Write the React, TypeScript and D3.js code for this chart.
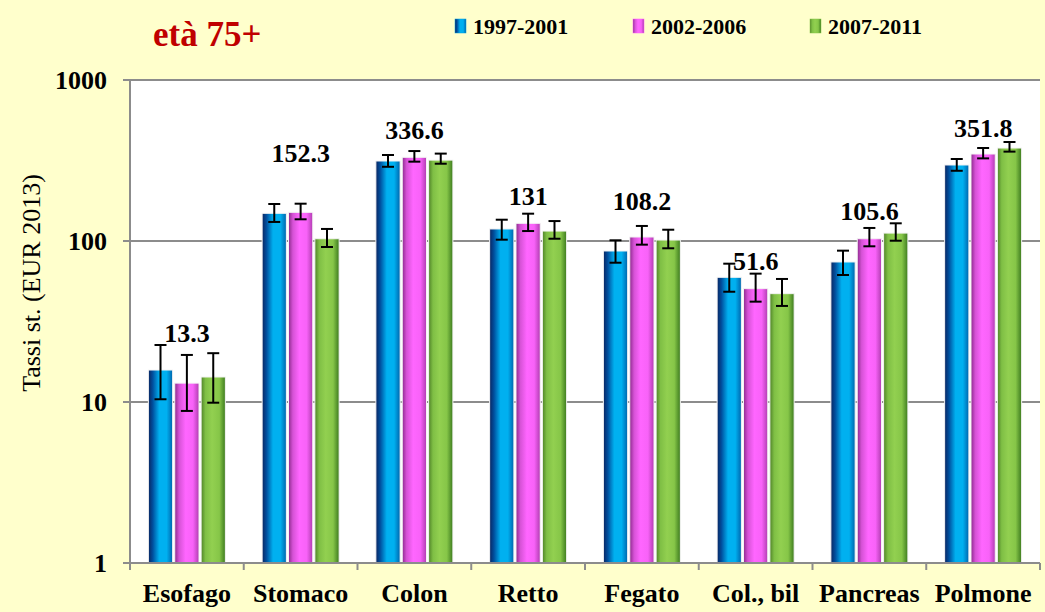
import React from 'react';
import * as d3 from 'd3';

const categories = ['Esofago', 'Stomaco', 'Colon', 'Retto', 'Fegato', 'Col., bil', 'Pancreas', 'Polmone'];
const seriesNames = ['1997-2001', '2002-2006', '2007-2011'];

const rates1997 = [15.8, 148.6, 314, 118.8, 86.7, 59.5, 74.1, 296.6];
const rates2002 = [13.1, 150.7, 331, 128.8, 105.9, 50.6, 103.3, 347];
const rates2007 = [14.3, 103.3, 318, 115.3, 101.4, 47.1, 112, 378];

const low1997 = [10.4, 131.3, 289, 101.9, 73.3, 48.4, 61.5, 273];
const high1997 = [22.6, 169.8, 342, 135.6, 101, 72.3, 87.1, 323];
const low2002 = [8.8, 136.4, 311, 115.3, 94.9, 42, 92.7, 326];
const high2002 = [19.6, 170.5, 362, 147.8, 124, 62.7, 120.5, 378];
const low2007 = [9.9, 91.8, 302, 103.3, 90.1, 39.5, 100.4, 359];
const high2007 = [20.1, 118.8, 349, 133, 117.5, 58.1, 128.8, 412];

const valueLabels = ['13.3', '152.3', '336.6', '131', '108.2', '51.6', '105.6', '351.8'];
// where each label's baseline sits, in data units
const labelAt = [23.6, 310, 430, 167, 156, 66, 135, 443];

const yTicks = [1, 10, 100, 1000];

const W = 1045;
const H = 612;
const plot = { left: 130, right: 1040, top: 80, bottom: 563 };
const serif = '"Liberation Serif", "Times New Roman", serif';

const gradients = [
  ['#0a2560', '#004f9e', '#00b0f0', '#00b0f0', '#0064ac'],
  ['#8c2a8c', '#d652d6', '#ff66ff', '#f862f8', '#b03cb0'],
  ['#4f8228', '#7fbf45', '#92d050', '#86c648', '#3c7a1e'],
];
const swatch = ['#00a0e0', '#ff5cff', '#86c448'];

export default function App() {
  const values = [rates1997, rates2002, rates2007];
  const lows = [low1997, low2002, low2007];
  const highs = [high1997, high2002, high2007];

  const x0 = d3.scaleBand<string>().domain(categories).range([plot.left, plot.right]).padding(0);
  const groupW = 77;
  const x1 = d3.scaleBand<string>().domain(seriesNames).range([-groupW / 2, groupW / 2]).paddingInner(0.08);
  const y = d3.scaleLog().domain([1, 1000]).range([plot.bottom, plot.top]);

  const cx = (c: string) => (x0(c) as number) + x0.bandwidth() / 2;

  return (
    <svg width={W} height={H} style={{ position: 'absolute', left: 0, top: 0, display: 'block' }}>
      <defs>
        {gradients.map((g, i) => (
          <linearGradient key={i} id={`grad${i}`} x1="0" x2="1" y1="0" y2="0">
            <stop offset="0%" stopColor={g[0]} />
            <stop offset="18%" stopColor={g[1]} />
            <stop offset="45%" stopColor={g[2]} />
            <stop offset="75%" stopColor={g[3]} />
            <stop offset="100%" stopColor={g[4]} />
          </linearGradient>
        ))}
      </defs>
      <rect width={W} height={H} fill="#ffffcc" />
      <rect x={plot.left} y={plot.top} width={plot.right - plot.left} height={plot.bottom - plot.top} fill="#ffffff" />

      {/* grid lines */}
      {yTicks.slice(1).map((t) => (
        <line key={t} x1={plot.left - 7} x2={plot.right} y1={y(t)} y2={y(t)} stroke="#8c8c8c" strokeWidth={2} />
      ))}

      {/* bars */}
      {seriesNames.map((s, si) =>
        categories.map((c, ci) => {
          const bx = cx(c) + (x1(s) as number);
          const by = y(values[si][ci]);
          return (
            <rect
              key={`${s}-${c}`}
              x={bx}
              y={by}
              width={x1.bandwidth()}
              height={plot.bottom - by}
              fill={`url(#grad${si})`}
              stroke="#f4f4f4"
              strokeWidth={1}
            />
          );
        })
      )}

      {/* error bars */}
      {seriesNames.map((s, si) =>
        categories.map((c, ci) => {
          const mx = cx(c) + (x1(s) as number) + x1.bandwidth() / 2;
          const yl = y(lows[si][ci]);
          const yh = y(highs[si][ci]);
          return (
            <g key={`e-${s}-${c}`} stroke="#000" strokeWidth={2}>
              <line x1={mx} x2={mx} y1={yh} y2={yl} />
              <line x1={mx - 6} x2={mx + 6} y1={yh} y2={yh} />
              <line x1={mx - 6} x2={mx + 6} y1={yl} y2={yl} />
            </g>
          );
        })
      )}

      {/* axes */}
      <line x1={plot.left} x2={plot.left} y1={plot.top} y2={plot.bottom + 1} stroke="#8c8c8c" strokeWidth={2} />
      <line x1={plot.left - 7} x2={plot.right} y1={plot.bottom} y2={plot.bottom} stroke="#8c8c8c" strokeWidth={2} />
      {categories.map((c) => (
        <line key={`t-${c}`} x1={x0(c)} x2={x0(c)} y1={plot.bottom} y2={plot.bottom + 7} stroke="#8c8c8c" strokeWidth={2} />
      ))}
      <line x1={plot.right} x2={plot.right} y1={plot.bottom} y2={plot.bottom + 7} stroke="#8c8c8c" strokeWidth={2} />

      {yTicks.map((t) => (
        <text key={`yl-${t}`} x={107} y={y(t)} dy="0.35em" textAnchor="end" fontFamily={serif} fontWeight="bold" fontSize={26} fill="#000">
          {t}
        </text>
      ))}

      {categories.map((c) => (
        <text key={`xl-${c}`} x={cx(c)} y={602} textAnchor="middle" fontFamily={serif} fontWeight="bold" fontSize={26} fill="#000">
          {c}
        </text>
      ))}

      {/* value labels */}
      {categories.map((c, ci) => (
        <text key={`v-${c}`} x={cx(c)} y={y(labelAt[ci])} textAnchor="middle" fontFamily={serif} fontWeight="bold" fontSize={26} fill="#000">
          {valueLabels[ci]}
        </text>
      ))}

      <text
        transform="translate(40,283) rotate(-90)"
        textAnchor="middle"
        fontFamily={serif}
        fontSize={26}
        fill="#000"
      >
        Tassi st. (EUR 2013)
      </text>

      <text x={153} y={46} fontFamily={serif} fontWeight="bold" fontSize={35} fill="#c00000">
        età 75+
      </text>

      {/* legend */}
      {seriesNames.map((s, si) => {
        const lx = [455, 633, 810][si];
        return (
          <g key={`lg-${s}`}>
            <rect x={lx} y={19} width={11} height={14} fill={`url(#grad${si})`} stroke={swatch[si]} strokeWidth={0.5} />
            <text x={lx + 18} y={34} fontFamily={serif} fontWeight="bold" fontSize={22} fill="#000">
              {s}
            </text>
          </g>
        );
      })}
    </svg>
  );
}
